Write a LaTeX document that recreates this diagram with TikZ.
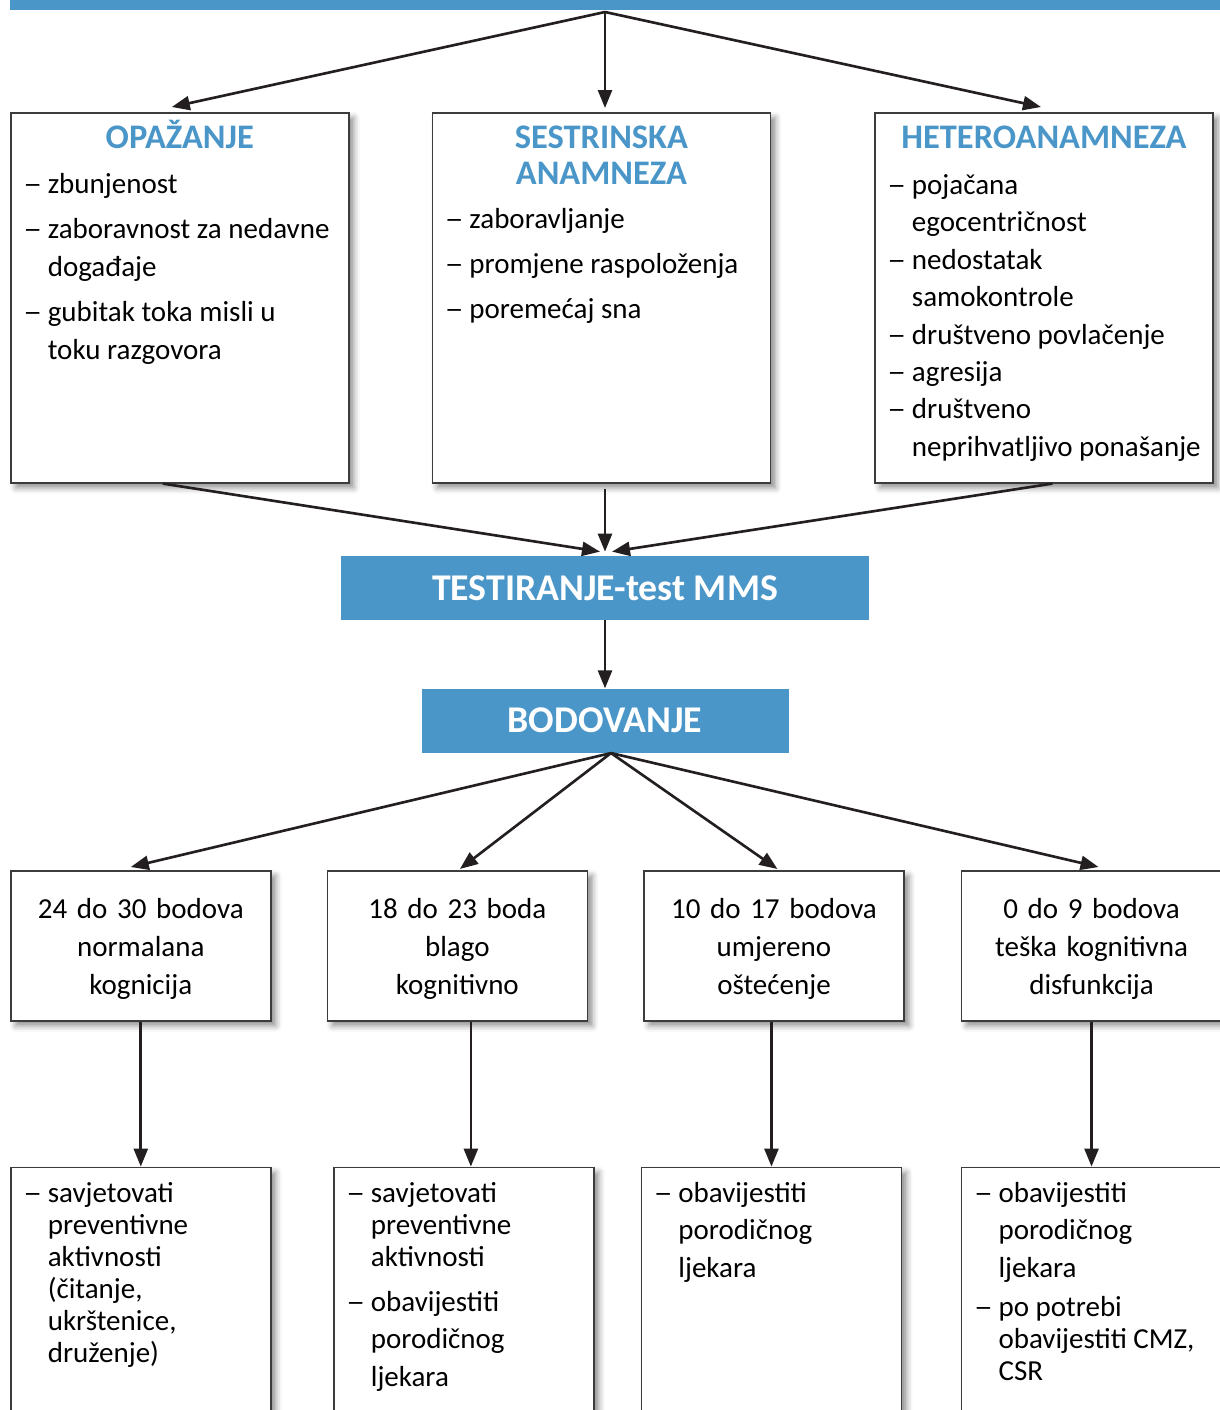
\documentclass[tikz,border=0pt]{standalone}
\usepackage{graphicx}
\usepackage{fontspec}
\setmainfont{Carlito}
\usetikzlibrary{positioning,arrows.meta,shadows.blur}

\definecolor{plava}{HTML}{4A96C8}
\definecolor{crta}{HTML}{3C3C3C}
\definecolor{strel}{HTML}{231F20}

\newcommand\vrh[1]{\rule{0pt}{#1}}
\newcommand\naslov[1]{{\centering\fontsize{19.6}{20.5}\selectfont\bfseries\leavevmode\color{plava}#1\par}}
\NewDocumentCommand\crt{O{21.6pt} O{4pt} m}{\par\vspace{#2}\fontsize{16.5}{#1}\selectfont
  \let\\\newline\setbox0\hbox to 0.42cm{\hspace{-0.07cm}\scalebox{1.3}[1]{--}\hfil}%
  \hangindent=\wd0 \hangafter=1 \noindent\box0 #3\par}

\begin{document}
\begin{tikzpicture}[node distance=2cm,
    okvir/.style={draw=crta, fill=white, line width=0.9pt, inner xsep=0.32cm, inner ysep=0pt,
      blur shadow={shadow xshift=0.1cm, shadow yshift=-0.1cm, shadow blur radius=0.12cm, shadow opacity=45}},
    plavi/.style={fill=plava, text=white, inner sep=0pt, font=\fontsize{21.5}{24}\selectfont\bfseries},
    ocjena/.style={okvir, inner sep=0pt, text width=5.2cm, minimum height=3cm, align=center,
      font=\fontsize{16.5}{21.6}\selectfont},
    strelica/.style={-{Triangle[length=0.36cm,width=0.28cm]}, line width=1.5pt, color=strel}]
  \useasboundingbox (0,0) rectangle (24.38,-28.2);

  \node[fill=plava, inner sep=0pt, minimum width=24.8cm, minimum height=0.2cm, anchor=north west] (traka) at (0.2,0) {};
  \coordinate (izvor) at (12.1,-0.24);

  % izvori podataka
  \node[okvir, anchor=north west] (opaz) at (0.2,-2.24) {\parbox[t][7.4cm][t]{6.12cm}{\raggedright
    \naslov{\vrh{20.5pt}OPAŽANJE}
    \crt{zbunjenost}
    \crt{zaboravnost za nedavne\\događaje}
    \crt{gubitak toka misli u\\toku razgovora}}};
  \node[okvir, right=1.64cm of opaz] (sestr) {\parbox[t][7.4cm][t]{6.12cm}{\raggedright
    \naslov{\vrh{20.5pt}SESTRINSKA\\ANAMNEZA}
    \crt[21.6pt][3pt]{zaboravljanje}
    \crt{promjene raspoloženja}
    \crt{poremećaj sna}}};
  \node[okvir, right=2.06cm of sestr] (hetero) {\parbox[t][7.4cm][t]{6.12cm}{\raggedright
    \naslov{\vrh{20.5pt}HETEROANAMNEZA}
    \crt[21.3pt][4.6pt]{pojačana\\egocentričnost}
    \crt[21.3pt][0pt]{nedostatak\\samokontrole}
    \crt[21.3pt][0pt]{društveno povlačenje}
    \crt[21.3pt][0pt]{agresija}
    \crt[21.3pt][0pt]{društveno\\\mbox{neprihvatljivo ponašanje}}}};

  \node[plavi, minimum width=10.56cm, minimum height=1.28cm] (test) at (12.1,-11.76) {TESTIRANJE-test MMS};
  \node[plavi, minimum width=7.34cm, minimum height=1.28cm, below=1.36cm of test] (bod) {BODOVANJE};

  % rezultati
  \node[ocjena, anchor=north west] (r1) at (0.2,-17.4) {\vrh{15pt}24 do 30 bodova\\normalana\\kognicija};
  \node[ocjena, right=1.1cm of r1] (r2) {\vrh{15pt}18 do 23 boda\\blago\\kognitivno};
  \node[ocjena, right=1.1cm of r2] (r3) {\vrh{15pt}10 do 17 bodova\\umjereno\\oštećenje};
  \node[ocjena, right=1.12cm of r3] (r4) {\vrh{15pt}0 do 9 bodova\\teška kognitivna\\disfunkcija};

  % postupci
  \node[okvir, below=2.9cm of r1] (p1) {\parbox[t][5.9cm][t]{4.56cm}{\raggedright
    \crt[18.2pt][0pt]{\vrh{19.9pt}savjetovati\\preventivne\\aktivnosti\\(čitanje,\\ukrštenice,\\druženje)}}};
  \node[okvir, below=2.9cm of r2, xshift=0.13cm] (p2) {\parbox[t][5.9cm][t]{4.56cm}{\raggedright
    \crt[18.2pt][0pt]{\vrh{19.9pt}savjetovati\\preventivne\\aktivnosti}
    \crt[21.3pt][4.3pt]{obavijestiti\\porodičnog\\ljekara}}};
  \node[okvir, below=2.9cm of r3, xshift=-0.05cm] (p3) {\parbox[t][5.9cm][t]{4.56cm}{\raggedright
    \crt[21.3pt][0pt]{\vrh{19.9pt}obavijestiti\\porodičnog\\ljekara}}};
  \node[okvir, below=2.9cm of r4] (p4) {\parbox[t][5.9cm][t]{4.56cm}{\raggedright
    \crt[21.3pt][0pt]{\vrh{19.9pt}obavijestiti\\porodičnog\\ljekara}
    \crt[18.2pt][4pt]{po potrebi\\obavijestiti CMZ,\\CSR}}};

  \path[strelica]
    (izvor) edge ([xshift=-0.16cm,yshift=0.1cm]opaz.north)
    (izvor) edge ([yshift=0.08cm]izvor |- sestr.north)
    (izvor) edge ([xshift=-0.06cm,yshift=0.1cm]hetero.north)
    ([xshift=-0.34cm]opaz.south) edge ([xshift=-0.1cm,yshift=0.08cm]test.north)
    ([yshift=-0.1cm]test.north |- sestr.south) edge ([yshift=0.08cm]test.north)
    ([xshift=0.17cm]hetero.south) edge ([xshift=0.14cm,yshift=0.08cm]test.north)
    (test) edge (bod)
    ([xshift=0.12cm]bod.south) edge ([xshift=-0.2cm,yshift=0.06cm]r1.north)
    ([xshift=0.12cm]bod.south) edge ([xshift=0.05cm,yshift=0.02cm]r2.north)
    ([xshift=0.12cm]bod.south) edge ([xshift=0.07cm,yshift=0.02cm]r3.north)
    ([xshift=0.12cm]bod.south) edge ([xshift=0.14cm,yshift=0.06cm]r4.north)
    (r1) edge (p1)
    ([xshift=0.27cm]r2.south) edge ([xshift=0.27cm]r2.south |- p2.north)
    ([xshift=-0.05cm]r3.south) edge ([xshift=-0.05cm]r3.south |- p3.north)
    (r4) edge (p4);
\end{tikzpicture}
\end{document}
